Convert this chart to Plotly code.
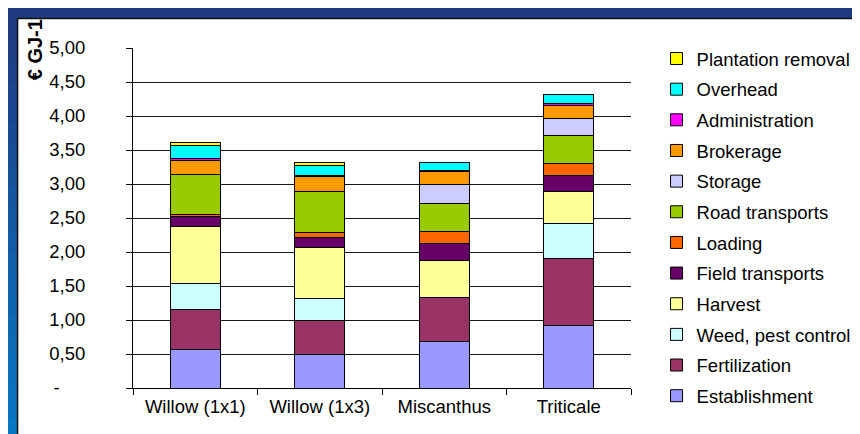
import plotly.graph_objects as go

categories = ["Willow (1x1)", "Willow (1x3)", "Miscanthus", "Triticale"]

establishment = [0.56, 0.49, 0.69, 0.92]
fertilization = [0.60, 0.51, 0.64, 0.99]
weed_pest_control = [0.37, 0.32, 0.00, 0.51]
harvest = [0.84, 0.74, 0.54, 0.47]
field_transports = [0.15, 0.155, 0.26, 0.24]
loading = [0.03, 0.07, 0.17, 0.17]
road_transports = [0.59, 0.60, 0.42, 0.41]
storage = [0.00, 0.00, 0.27, 0.26]
brokerage = [0.21, 0.22, 0.19, 0.19]
administration = [0.03, 0.02, 0.02, 0.03]
overhead = [0.19, 0.15, 0.11, 0.12]
plantation_removal = [0.04, 0.04, 0.00, 0.00]

series = [
    ("Establishment", establishment, "#9999FF"),
    ("Fertilization", fertilization, "#993366"),
    ("Weed, pest control", weed_pest_control, "#CCFFFF"),
    ("Harvest", harvest, "#FFFF99"),
    ("Field transports", field_transports, "#660066"),
    ("Loading", loading, "#FF6600"),
    ("Road transports", road_transports, "#99CC00"),
    ("Storage", storage, "#CCCCFF"),
    ("Brokerage", brokerage, "#FF9900"),
    ("Administration", administration, "#FF00FF"),
    ("Overhead", overhead, "#00FFFF"),
    ("Plantation removal", plantation_removal, "#FFFF00"),
]

tick_vals = [0, 0.5, 1, 1.5, 2, 2.5, 3, 3.5, 4, 4.5, 5]
tick_text = ["-\u00a0\u00a0\u00a0\u00a0\u00a0", "0,50", "1,00", "1,50", "2,00", "2,50",
             "3,00", "3,50", "4,00", "4,50", "5,00"]

FONT = "Liberation Sans, Arial, sans-serif"

fig = go.Figure()
for i, (name, vals, col) in enumerate(series):
    fig.add_trace(go.Bar(
        x=categories, y=vals, name=name, legendgroup=name,
        legendrank=1000 - i,
        marker=dict(color=col, line=dict(color="#000000", width=1)),
    ))

W, H = 860, 434
L, R, T, B = 125, 632, 40, 380


def px2x(px):
    return (px - L) / (R - L)


def py2y(py):
    return (B - py) / (B - T)


shapes = []
# blue slide border: top band and left band with a vertical gradient
shapes.append(dict(type="rect", xref="paper", yref="paper",
                   x0=px2x(-5), x1=px2x(W + 5), y0=py2y(10), y1=py2y(-5),
                   fillcolor="#1F3B82", line=dict(width=0), layer="below"))
n = 20
c0 = (0x1F, 0x3B, 0x82)
c1 = (0x08, 0x78, 0xC4)
for i in range(n):
    f = i / (n - 1)
    c = tuple(int(round(c0[k] + (c1[k] - c0[k]) * f)) for k in range(3))
    y_top = 10 + (H - 10) * i / n
    y_bot = 10 + (H - 10) * (i + 1) / n
    shapes.append(dict(type="rect", xref="paper", yref="paper",
                       x0=px2x(-5), x1=px2x(7), y0=py2y(y_bot + 1), y1=py2y(y_top),
                       fillcolor="rgb(%d,%d,%d)" % c, line=dict(width=0), layer="below"))
# dark edge lines of the white panel
shapes.append(dict(type="line", xref="paper", yref="paper",
                   x0=px2x(7), x1=px2x(W + 5), y0=py2y(10.5), y1=py2y(10.5),
                   line=dict(color="#101010", width=1.5)))
shapes.append(dict(type="line", xref="paper", yref="paper",
                   x0=px2x(7.5), x1=px2x(7.5), y0=py2y(10), y1=py2y(H + 5),
                   line=dict(color="#101010", width=1.5)))

fig.update_layout(
    width=W, height=H,
    margin=dict(l=L, r=W - R, t=T, b=H - B),
    paper_bgcolor="#FFFFFF", plot_bgcolor="#FFFFFF",
    barmode="stack", bargap=0.6,
    font=dict(family=FONT, size=18, color="#000000"),
    showlegend=True,
    legend=dict(
        x=px2x(658), y=py2y(32), xanchor="left", yanchor="top",
        traceorder="grouped", tracegroupgap=3.6,
        font=dict(family=FONT, size=18.5, color="#000000"),
        itemwidth=30, bgcolor="rgba(0,0,0,0)",
        maxheight=430,
    ),
    shapes=shapes,
    annotations=[dict(
        text="<b>€ GJ-1</b>", xref="paper", yref="paper",
        x=px2x(25), y=py2y(9), xanchor="center", yanchor="top",
        textangle=-90, showarrow=False,
        font=dict(family=FONT, size=20, color="#000000"),
    )],
)

fig.update_xaxes(
    showline=True, linecolor="#000000", linewidth=1,
    ticks="outside", tickson="boundaries", ticklen=6, tickcolor="#000000",
    showgrid=False, ticklabelstandoff=2,
    tickfont=dict(family=FONT, size=18.5, color="#000000"),
)
fig.update_yaxes(
    range=[0, 5], tickvals=tick_vals, ticktext=tick_text,
    showline=True, linecolor="#000000", linewidth=1,
    ticks="outside", ticklen=6, tickcolor="#000000",
    showgrid=True, gridcolor="#1A1A1A", gridwidth=1,
    zeroline=False, ticklabelstandoff=37,
    tickfont=dict(family=FONT, size=18.5, color="#000000"),
)

fig.write_html("out.html")
